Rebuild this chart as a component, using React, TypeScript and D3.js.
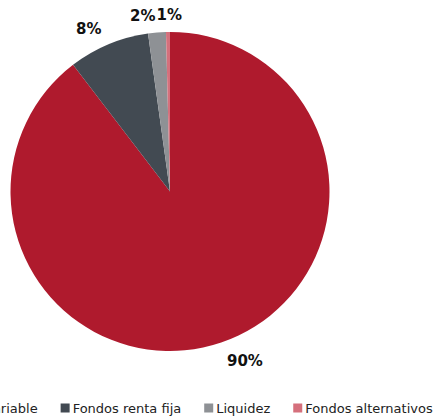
import { useEffect, useRef } from 'react';
import * as d3 from 'd3';

const categories = ['Renta variable', 'Fondos renta fija', 'Liquidez', 'Fondos alternativos'];
const values = [89.6, 8.2, 1.8, 0.4];
const labels = ['90%', '8%', '2%', '1%'];
const colors = ['#AF1A2D', '#424A52', '#8E9195', '#D5707C'];

const width = 433;
const height = 417;

const App = () => {
  const ref = useRef<SVGSVGElement | null>(null);

  useEffect(() => {
    if (!ref.current) return;
    const svg = d3.select(ref.current);
    svg.selectAll('*').remove();

    const cx = 170;
    const cy = 191.5;
    const radius = 159.5;
    const data = categories.map((c, i) => ({ name: c, value: values[i], label: labels[i], color: colors[i] }));

    const pie = d3.pie<typeof data[0]>().value(d => d.value).sort(null);
    const arc = d3.arc<d3.PieArcDatum<typeof data[0]>>().innerRadius(0).outerRadius(radius);
    const arcs = pie(data);

    const g = svg.append('g').attr('transform', `translate(${cx},${cy})`);
    g.selectAll('path')
      .data(arcs)
      .enter()
      .append('path')
      .attr('d', arc)
      .attr('fill', d => d.data.color);

    // labels outside the pie
    const labelR = radius + 18;
    let prevRight = -Infinity;
    arcs.forEach(d => {
      const mid = (d.startAngle + d.endAngle) / 2;
      let x = labelR * Math.sin(mid);
      const y = -labelR * Math.cos(mid) + 6;
      let anchor = Math.sin(mid) >= 0 ? 'start' : 'end';
      const t = g.append('text')
        .attr('font-family', 'DejaVu Sans, Verdana, sans-serif')
        .attr('font-size', 15)
        .attr('font-weight', 'bold')
        .attr('fill', '#111')
        .text(d.data.label);
      const w = (t.node() as SVGTextElement).getComputedTextLength();
      let left = anchor === 'start' ? x : x - w;
      if (y < -150 && left < prevRight + 1) {
        left = prevRight + 1;
        anchor = 'start';
        x = left;
      }
      if (y < -150) prevRight = left + w;
      t.attr('x', anchor === 'start' ? left : x).attr('y', y).attr('text-anchor', anchor);
    });

    // legend
    const legend = svg.append('g').attr('transform', `translate(0,${408})`);
    const items = data.map(d => {
      const item = legend.append('g');
      item.append('rect').attr('y', -4.5).attr('width', 9).attr('height', 9).attr('fill', d.color);
      const t = item.append('text')
        .attr('x', 12)
        .attr('y', 5)
        .attr('font-family', 'DejaVu Sans, Verdana, sans-serif')
        .attr('font-size', 13)
        .attr('fill', '#222')
        .text(d.name);
      const w = 12 + (t.node() as SVGTextElement).getComputedTextLength();
      return { item, w };
    });
    const gap = 23;
    const total = d3.sum(items, d => d.w) + gap * (items.length - 1);
    let x = 182 - total / 2;
    items.forEach(it => {
      it.item.attr('transform', `translate(${x},0)`);
      x += it.w + gap;
    });
  }, []);

  return (
    <svg
      ref={ref}
      width={width}
      height={height}
      style={{ position: 'absolute', left: 0, top: 0, background: '#fff' }}
    />
  );
};

export default App;
